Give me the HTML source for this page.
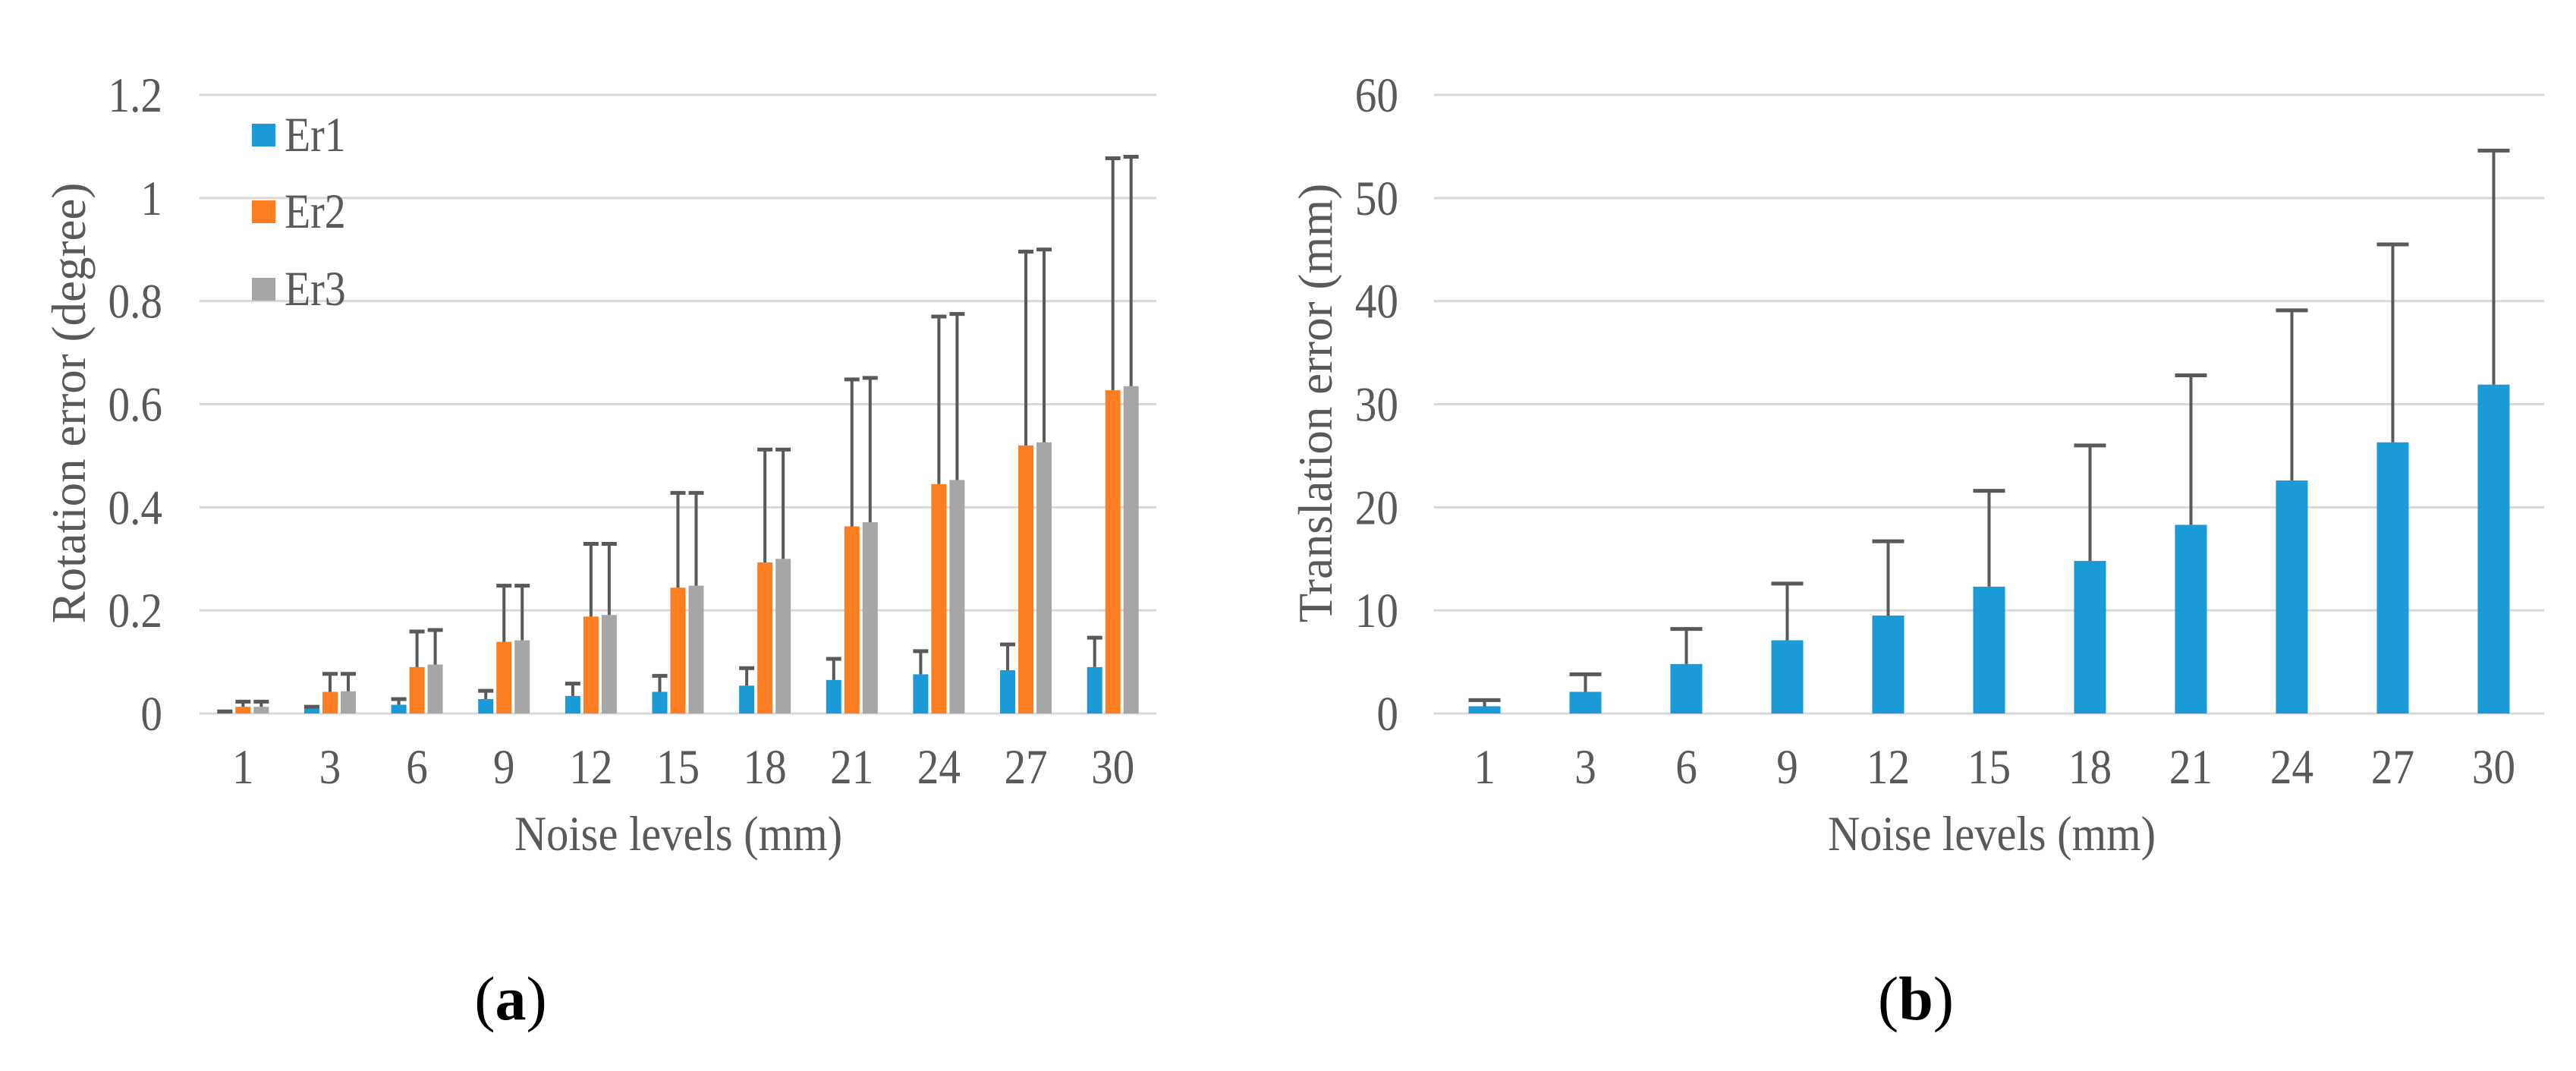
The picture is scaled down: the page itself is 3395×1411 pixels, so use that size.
<!DOCTYPE html>
<html><head><meta charset="utf-8">
<style>
html,body{margin:0;padding:0;background:#fff;}
svg{display:block;}
svg text{font-family:"Liberation Serif","DejaVu Serif",serif !important;}
</style></head>
<body>
<svg id="fig" width="3395" height="1411" viewBox="0 0 3395 1411" xmlns="http://www.w3.org/2000/svg" font-family="Liberation Serif, serif">
<rect width="3395" height="1411" fill="#fff"/>
<g id="chartA"></g>
<g id="chartB"></g>
<text font-family="Liberation Serif, serif" transform="translate(112,531) rotate(-90)" text-anchor="middle" font-size="63" fill="#595959">Rotation error (degree)</text>
<text font-family="Liberation Serif, serif" transform="translate(1755,531) rotate(-90)" text-anchor="middle" font-size="63" fill="#595959">Translation error (mm)</text>
<text font-family="Liberation Serif, serif" transform="translate(894,1120) scale(0.9,1)" text-anchor="middle" font-size="65" fill="#595959">Noise levels (mm)</text>
<text font-family="Liberation Serif, serif" transform="translate(2625,1120) scale(0.9,1)" text-anchor="middle" font-size="65" fill="#595959">Noise levels (mm)</text>
<text font-family="Liberation Serif, serif" x="673" y="1343" text-anchor="middle" font-size="82" fill="#000">(<tspan font-weight="bold">a</tspan>)</text>
<text font-family="Liberation Serif, serif" x="2525" y="1343" text-anchor="middle" font-size="82" fill="#000">(<tspan font-weight="bold">b</tspan>)</text>
<g>
  <rect x="332" y="163" width="31" height="30" fill="#1a9ad7"/>
  <text font-family="Liberation Serif, serif" transform="translate(375,199) scale(0.86,1)" font-size="65" fill="#595959">Er1</text>
  <rect x="332" y="264" width="31" height="30" fill="#fd7e22"/>
  <text font-family="Liberation Serif, serif" transform="translate(375,300) scale(0.86,1)" font-size="65" fill="#595959">Er2</text>
  <rect x="332" y="366" width="31" height="30" fill="#a6a6a6"/>
  <text font-family="Liberation Serif, serif" transform="translate(375,402) scale(0.86,1)" font-size="65" fill="#595959">Er3</text>
</g>
</svg>
<script>
const categories = ["1","3","6","9","12","15","18","21","24","27","30"];
const er1Mean = [0.003,0.010,0.017,0.028,0.034,0.042,0.054,0.065,0.076,0.084,0.090];
const er1Top  = [0.004,0.013,0.028,0.044,0.058,0.073,0.088,0.106,0.121,0.134,0.147];
const er2Mean = [0.013,0.042,0.090,0.139,0.188,0.244,0.293,0.363,0.445,0.520,0.627];
const er2Top  = [0.023,0.077,0.159,0.248,0.329,0.428,0.512,0.648,0.770,0.896,1.077];
const er3Mean = [0.013,0.043,0.095,0.142,0.191,0.248,0.300,0.371,0.453,0.526,0.635];
const er3Top  = [0.023,0.077,0.162,0.248,0.329,0.428,0.512,0.651,0.775,0.900,1.080];
const transMean = [0.7,2.1,4.8,7.1,9.5,12.3,14.8,18.3,22.6,26.3,31.9];
const transTop  = [1.3,3.8,8.2,12.6,16.7,21.6,26.0,32.8,39.1,45.5,54.6];
const ticksA = ["0","0.2","0.4","0.6","0.8","1","1.2"];
const ticksB = ["0","10","20","30","40","50","60"];

const NS = "http://www.w3.org/2000/svg";
const Y0 = 940, YTOP = 125;
function mk(parent, tag, attrs){
  const e = document.createElementNS(NS, tag);
  for (const k in attrs) e.setAttribute(k, attrs[k]);
  parent.appendChild(e);
  return e;
}
function drawChart(g, left, right, maxV, ticks, labelRight, series, barW, offsets){
  const n = categories.length;
  const step = (right - left) / n;
  const xC = i => left + step * (i + 0.5);
  const yS = v => Y0 - (v / maxV) * (Y0 - YTOP);
  ticks.forEach((t, i) => {
    const v = maxV * i / (ticks.length - 1);
    const gl = mk(g, "line", {x1:left, x2:right, y1:yS(v), y2:yS(v), stroke:"#d9d9d9", "stroke-width":3});
    
    
    const tl = mk(g, "text", {transform:`translate(${labelRight},${yS(v)+22}) scale(0.88,1)`, "text-anchor":"end", "font-size":65, fill:"#595959", "font-family":"Liberation Serif, serif"});
    tl.textContent = t;
    
    
  });
  categories.forEach((c, i) => {
    const xl = mk(g, "text", {transform:`translate(${xC(i)},1032) scale(0.88,1)`, "text-anchor":"middle", "font-size":65, fill:"#595959", "font-family":"Liberation Serif, serif"});
    xl.textContent = c;
    
    
  });
  series.forEach((s, si) => {
    categories.forEach((c, i) => {
      const cx = xC(i) + offsets[si];
      const yT = yS(s.mean[i]);
      const b = mk(g, "rect", {x:cx - barW/2, y:yT, width:barW, height:Y0 - yT, fill:s.color});
      
      
      const yE = yS(s.top[i]);
      const st = mk(g, "line", {x1:cx, x2:cx, y1:yT, y2:yE, stroke:"#595959", "stroke-width":4});
      
      
      const cap = mk(g, "line", {x1:cx - barW/2, x2:cx + barW/2, y1:yE, y2:yE, stroke:"#595959", "stroke-width":5});
      
      
    });
  });
}
drawChart(document.getElementById("chartA"), 263, 1524, 1.2, ticksA, 214,
  [{name:"er1", mean:er1Mean, top:er1Top, color:"#1a9ad7"},
   {name:"er2", mean:er2Mean, top:er2Top, color:"#fd7e22"},
   {name:"er3", mean:er3Mean, top:er3Top, color:"#a6a6a6"}], 20, [-24, 0, 24]);
drawChart(document.getElementById("chartB"), 1890, 3353, 60, ticksB, 1843,
  [{name:"translation", mean:transMean, top:transTop, color:"#1a9ad7"}], 42, [0]);
</script>
</body></html>
